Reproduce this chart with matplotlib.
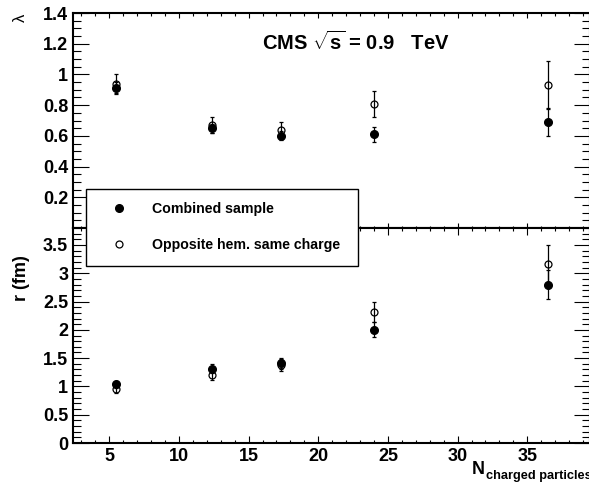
import numpy as np
import matplotlib
matplotlib.use("Agg")
import matplotlib.pyplot as plt
from matplotlib.lines import Line2D
from matplotlib.patches import Rectangle
from matplotlib.ticker import MultipleLocator, FixedLocator

plt.rcParams['font.family'] = ['Liberation Sans', 'DejaVu Sans']
plt.rcParams['font.weight'] = 'bold'
plt.rcParams['mathtext.fontset'] = 'custom'
plt.rcParams['mathtext.rm'] = 'Liberation Sans:bold'
plt.rcParams['mathtext.bf'] = 'Liberation Sans:bold'

# multiplicity bins
n_ch = [5.5, 12.4, 17.3, 24.0, 36.5]

# lambda
lam_comb = [0.91, 0.65, 0.60, 0.61, 0.69]
lam_comb_err = [0.04, 0.03, 0.03, 0.05, 0.09]
lam_opp = [0.94, 0.67, 0.635, 0.81, 0.93]
lam_opp_err = [0.06, 0.05, 0.055, 0.085, 0.155]

# radius r (fm)
r_comb = [1.04, 1.31, 1.41, 2.00, 2.80]
r_comb_err = [0.06, 0.08, 0.10, 0.13, 0.25]
r_opp = [0.95, 1.20, 1.38, 2.31, 3.17]
r_opp_err = [0.07, 0.08, 0.10, 0.18, 0.33]

labels = ['Combined sample', 'Opposite hem. same charge']

W, H = 589, 483
fig = plt.figure(figsize=(W / 100, H / 100), dpi=100)

x0, x1 = 73 / W, 590 / W
ax_top = fig.add_axes([x0, 1 - 228 / H, x1 - x0, (228 - 13) / H])
ax_bot = fig.add_axes([x0, 1 - 443 / H, x1 - x0, (443 - 228) / H])


def draw(ax, y1, e1, y2, e2):
    ax.errorbar(n_ch, y1, yerr=e1, fmt='o', color='black', ms=5.5,
                elinewidth=0.9, capsize=1.6, capthick=0.9)
    ax.errorbar(n_ch, y2, yerr=e2, fmt='o', color='black', mfc='none', ms=5,
                mew=0.9, elinewidth=0.9, capsize=1.6, capthick=0.9)


draw(ax_top, lam_comb, lam_comb_err, lam_opp, lam_opp_err)
draw(ax_bot, r_comb, r_comb_err, r_opp, r_opp_err)

for ax in (ax_top, ax_bot):
    ax.set_xlim(2.4, 39.5)
    ax.xaxis.set_major_locator(MultipleLocator(5))
    ax.xaxis.set_minor_locator(MultipleLocator(1))
    for s in ax.spines.values():
        s.set_linewidth(1.5)
    ax.tick_params(which='both', direction='in', top=True, right=True,
                   width=0.8, labelsize=13, pad=3.5)

ax_top.set_ylim(0, 1.4)
ax_top.yaxis.set_major_locator(FixedLocator([0.2, 0.4, 0.6, 0.8, 1.0, 1.2, 1.4]))
ax_top.yaxis.set_minor_locator(MultipleLocator(0.05))
ax_top.set_yticklabels(['0.2', '0.4', '0.6', '0.8', '1', '1.2', '1.4'])
ax_top.tick_params(axis='x', which='major', length=3.6, labelbottom=False)
ax_top.tick_params(axis='x', which='minor', length=1.8)
ax_top.tick_params(axis='y', which='major', length=11.5)
ax_top.tick_params(axis='y', which='minor', length=5.8)

ax_bot.set_ylim(0, 3.8)
ax_bot.yaxis.set_major_locator(FixedLocator([0, 0.5, 1, 1.5, 2, 2.5, 3, 3.5]))
ax_bot.yaxis.set_minor_locator(MultipleLocator(0.1))
ax_bot.set_yticklabels(['0', '0.5', '1', '1.5', '2', '2.5', '3', '3.5'])
ax_bot.tick_params(axis='x', which='major', length=5)
ax_bot.tick_params(axis='x', which='minor', length=2.2)
ax_bot.tick_params(axis='y', which='major', length=11.5)
ax_bot.tick_params(axis='y', which='minor', length=5.8)

# axis titles and header
fig.text(20 / W, 1 - 18 / H, 'λ', rotation=90, fontsize=12, fontweight='normal',
         ha='center', va='center')
fig.text(21 / W, 1 - 278 / H, 'r (fm)', rotation=90, fontsize=13,
         ha='center', va='center')
fig.text(472 / W, 1 - 474 / H, 'N', fontsize=13, ha='left', va='baseline')
fig.text(486 / W, 1 - 479 / H, 'charged particles', fontsize=9.2,
         ha='left', va='baseline')
fig.text(262 / W, 1 - 42 / H, r'CMS $\sqrt{\mathbf{s}}$ = 0.9   TeV',
         fontsize=14.5, ha='left', va='center')

# legend box across the two pads
fig.patches.append(Rectangle((86 / W, 1 - 266 / H), (358 - 86) / W, (266 - 189) / H,
                             transform=fig.transFigure, facecolor='white',
                             edgecolor='black', linewidth=1.0, zorder=4))
handles = [Line2D([], [], ls='none', marker='o', color='black', ms=5.5),
           Line2D([], [], ls='none', marker='o', color='black', mfc='none', ms=5, mew=0.9)]
fig.legend(handles, labels, loc='center left', bbox_to_anchor=(112 / W, 1 - 227 / H),
           frameon=False, borderpad=0, borderaxespad=0, handlelength=1.0,
           handletextpad=1.8, labelspacing=1.5, prop={'size': 10.2, 'weight': 'bold'})

plt.savefig('out.png', dpi=100)
